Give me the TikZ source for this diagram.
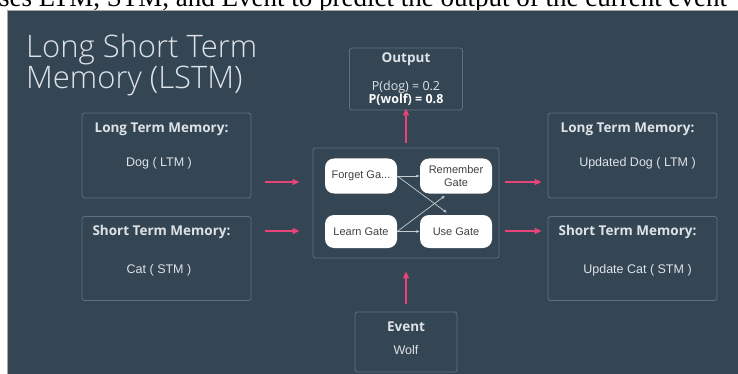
\documentclass[tikz,border=0pt]{standalone}
\usepackage{fontspec}
\setmainfont{Liberation Sans}
\newfontfamily\osans{Open Sans}
\newfontfamily\oslight{Open Sans}[UprightFont={* Light}]
\newfontfamily\tserif{Liberation Serif}
\usetikzlibrary{arrows.meta,calc}
\definecolor{bgc}{RGB}{52,69,83}
\definecolor{boxc}{RGB}{96,114,128}
\definecolor{pinkc}{RGB}{232,68,122}
\definecolor{txtc}{RGB}{222,227,231}
\definecolor{gatec}{RGB}{200,205,210}
\tikzset{
  panelbox/.style={draw=boxc, line width=0.8pt, rounded corners=2.5pt, inner sep=0pt},
  gatebox/.style={fill=white, draw=none, rounded corners=9pt, inner sep=0pt,
     minimum width=72pt, align=center, text=black!75, font=\fontsize{11}{12.5}\selectfont},
  ttl/.style={text=txtc, font=\osans\bfseries\fontsize{13.5}{15}\selectfont, inner sep=0pt},
  body/.style={text=txtc, font=\fontsize{12.5}{14}\selectfont, inner sep=0pt},
  pa/.style={draw=pinkc, line width=1.5pt, -{Triangle[length=7pt,width=6pt]}},
  ga/.style={draw=gatec, line width=0.7pt, -{Latex[length=3.5pt,width=3pt]}}
}
\begin{document}
\begin{tikzpicture}[x=1pt,y=-1pt]
\useasboundingbox (0,0) rectangle (738,374);
\fill[white] (0,0) rectangle (738,374);
\begin{scope}
\clip (0,0) rectangle (738,10);
\node[anchor=base west, inner sep=0pt, font=\tserif\fontsize{27}{29}\selectfont] (topline) at (-1,7) {ses LTM, STM, and Event to predict the output of the current event};
\end{scope}
\draw[fill=bgc, draw=gray!70, line width=0.8pt] (7,10) rectangle (742,378);
% title
\node[anchor=base west, inner sep=0pt, text=txtc, font=\oslight\fontsize{31}{33}\selectfont] (t1) at (26,58) {Long Short Term};
\node[anchor=base west, inner sep=0pt, text=txtc, font=\oslight\fontsize{31}{33}\selectfont] (t2) at (26,89) {Memory (LSTM)};
% boxes
\node[panelbox, minimum width=113pt, minimum height=62pt] (out) at (406,79) {};
\node[panelbox, minimum width=169pt, minimum height=85pt] (ltmL) at (166.5,155.5) {};
\node[panelbox, minimum width=169pt, minimum height=84pt] (stmL) at (166.5,258.5) {};
\node[panelbox, minimum width=169pt, minimum height=85pt] (ltmR) at (632.5,155.5) {};
\node[panelbox, minimum width=169pt, minimum height=84pt] (stmR) at (632.5,258.5) {};
\node[panelbox, minimum width=186pt, minimum height=110pt] (cen) at (406,203) {};
\node[panelbox, minimum width=102pt, minimum height=60pt] (ev) at (406,342) {};
% texts
\node[ttl] (outT) at (406,59.5) {Output};
\node[text=txtc, font=\osans\fontsize{12.5}{14}\selectfont, inner sep=0pt] (outA) at (406,87) {P(dog) = 0.2};
\node[text=white, font=\osans\bfseries\fontsize{12.5}{14}\selectfont, inner sep=0pt] (outB) at (406,100) {P(wolf) = 0.8};
\node[ttl] (ltmLT) at (161.5,129.5) {Long Term Memory:};
\node[body] (ltmLB) at (159,163.5) {Dog ( LTM )};
\node[ttl] (stmLT) at (161.5,231.5) {Short Term Memory:};
\node[body] (stmLB) at (159,270) {Cat ( STM )};
\node[ttl] (ltmRT) at (627.5,129.5) {Long Term Memory:};
\node[body] (ltmRB) at (637.5,163.5) {Updated Dog ( LTM )};
\node[ttl] (stmRT) at (627.5,231.5) {Short Term Memory:};
\node[body] (stmRB) at (637.5,270) {Update Cat ( STM )};
\node[ttl] (evT) at (406,327) {Event};
\node[body] (evB) at (406,350) {Wolf};
% gates
\node[gatebox, minimum height=35pt] (fg) at (361,176) {Forget Ga...};
\node[gatebox, minimum height=35pt] (rg) at (456,176) {Remember\\Gate};
\node[gatebox, minimum height=33pt] (lg) at (361,231.5) {Learn Gate};
\node[gatebox, minimum height=33pt] (ug) at (456,231.5) {Use Gate};
% gate connectors
\draw[ga] (fg.east) -- (rg.west);
\draw[ga] (lg.east) -- (ug.west);
\draw[ga] (fg.east) -- ($(ug.north)+(-9,-2)$);
\draw[ga] (lg.east) -- ($(rg.south)+(-11,2)$);
% pink arrows
\draw[pa] ($(ltmL.east)+(14,26.5)$) -- ($(cen.west)+(-13,-21)$);
\draw[pa] ($(stmL.east)+(14,-27.5)$) -- ($(cen.west)+(-13,28)$);
\draw[pa] ($(cen.east)+(6,-21)$) -- ($(ltmR.west)+(-6,26.5)$);
\draw[pa] ($(cen.east)+(6,28)$) -- ($(stmR.west)+(-6,-27.5)$);
\draw[pa] ($(cen.north)+(0,-5)$) -- ($(out.south)+(0,-2)$);
\draw[pa] ($(ev.north)+(0,-8)$) -- ($(cen.south)+(0,13)$);
\end{tikzpicture}
\end{document}
